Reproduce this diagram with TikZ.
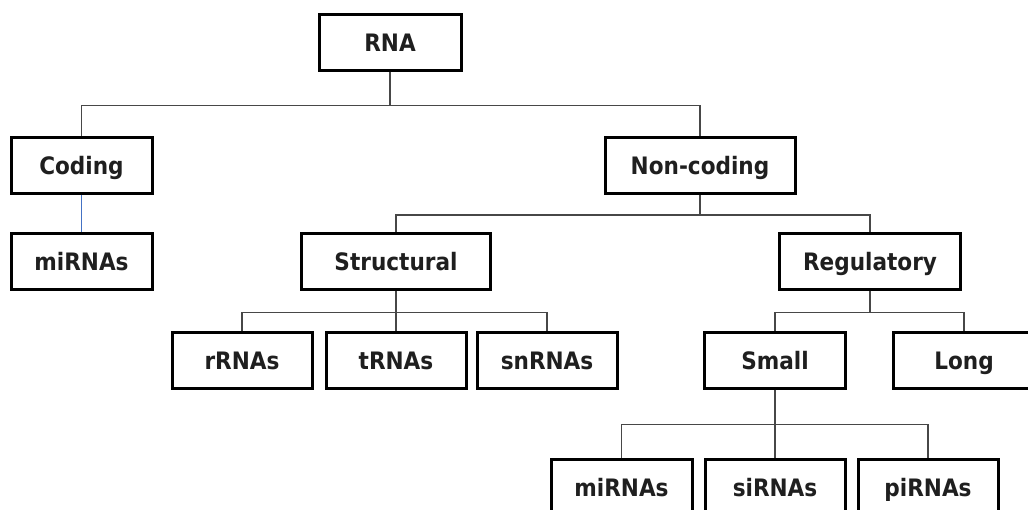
\documentclass[tikz,border=0pt]{standalone}
\usepackage{fontspec}
\setmainfont{DejaVu Sans Condensed}
\definecolor{linkblue}{RGB}{68,114,196}
\begin{document}
\begin{tikzpicture}[x=1pt,y=-1pt,
  box/.style={draw=black, line width=3pt, minimum height=56pt, inner sep=0pt,
    text height=18pt, text depth=0pt,
    font=\fontsize{24}{29}\selectfont\bfseries, text=black!88},
  conn/.style={draw=black!72, line width=1.6pt},
  blueconn/.style={draw=linkblue, line width=1.3pt}]
\useasboundingbox (0,0) rectangle (1028,509);
\clip (0,0) rectangle (1028,509);
\fill[white] (0,0) rectangle (1028,509);
% level 0
\node[box, minimum width=142pt] (rna) at (390,42) {RNA};
% level 1
\node[box, minimum width=141pt] (coding) at (81.5,165.5) {Coding};
\node[box, minimum width=190pt] (noncoding) at (700,165.5) {Non-coding};
% level 2
\node[box, minimum width=141pt] (mirnaL) at (81.5,261) {miRNAs};
\node[box, minimum width=189pt] (structural) at (396,261) {Structural};
\node[box, minimum width=181pt] (regulatory) at (870,261) {Regulatory};
% level 3
\node[box, minimum width=140pt] (rrna) at (242,360) {rRNAs};
\node[box, minimum width=140pt] (trna) at (396,360) {tRNAs};
\node[box, minimum width=140pt] (snrna) at (547,360) {snRNAs};
\node[box, minimum width=141pt] (small) at (775,360) {Small};
\node[box, minimum width=142pt] (long) at (964,360) {Long};
% level 4
\node[box, minimum width=141pt] (mirna) at (621.5,487) {miRNAs};
\node[box, minimum width=140pt] (sirna) at (775,487) {siRNAs};
\node[box, minimum width=140pt] (pirna) at (928,487) {piRNAs};
% connectors
\draw[conn] (rna.south) -- ++(0,34) coordinate (j1);
\draw[conn] (j1) -| (coding.north);
\draw[conn] (j1) -| (noncoding.north);
\draw[blueconn] (coding.south) -- (mirnaL.north);
\draw[conn] (noncoding.south) -- ++(0,20) coordinate (j2);
\draw[conn] (j2) -| (structural.north);
\draw[conn] (j2) -| (regulatory.north);
\draw[conn] (structural.south) -- ++(0,22) coordinate (j3);
\draw[conn] (j3) -| (rrna.north);
\draw[conn] (j3) -- (trna.north);
\draw[conn] (j3) -| (snrna.north);
\draw[conn] (regulatory.south) -- ++(0,22) coordinate (j4);
\draw[conn] (j4) -| (small.north);
\draw[conn] (j4) -| (long.north);
\draw[conn] (small.south) -- ++(0,35) coordinate (j5);
\draw[conn] (j5) -| (mirna.north);
\draw[conn] (j5) -- (sirna.north);
\draw[conn] (j5) -| (pirna.north);
\end{tikzpicture}
\end{document}
